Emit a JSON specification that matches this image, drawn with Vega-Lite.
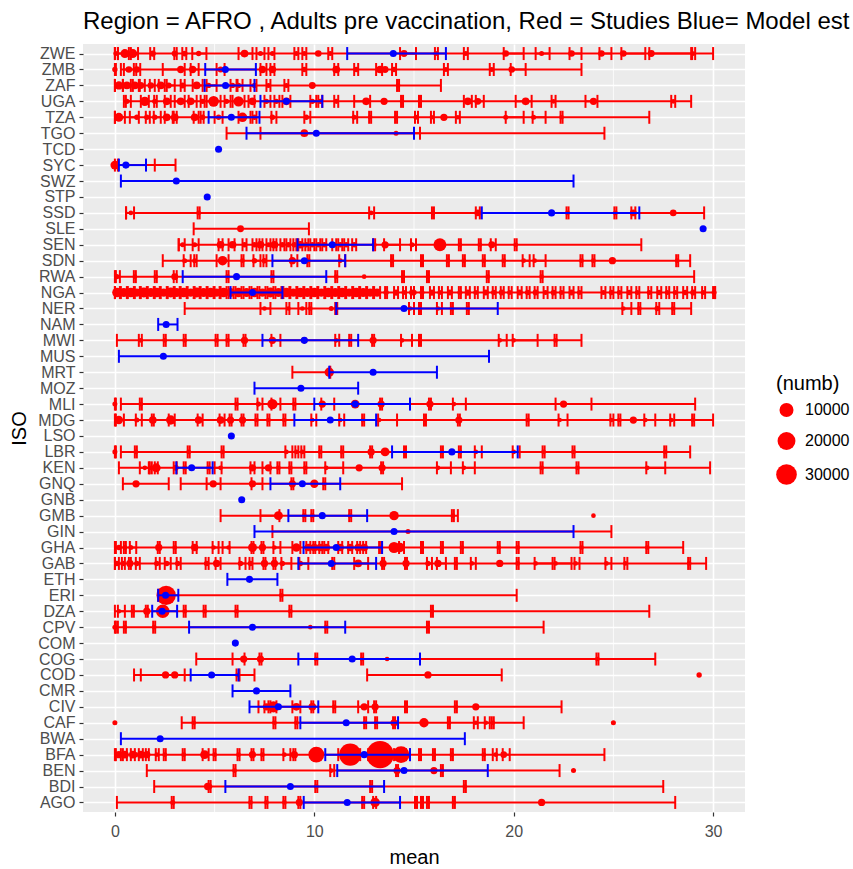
{
"$schema":"https://vega.github.io/schema/vega-lite/v6.json",
"width":662,"height":768,"autosize":{"type":"none"},
"padding":{"left":83,"top":44,"right":108,"bottom":57},
"title":{"text":"Region = AFRO , Adults pre vaccination, Red = Studies Blue= Model est","anchor":"start","frame":"group","fontSize":24,"fontWeight":"normal","font":"Liberation Sans","color":"#000000","offset":15,"baseline":"alphabetic","dy":24},
"config":{"font":"Liberation Sans","view":{"fill":"#EBEBEB","stroke":null},
"axis":{"domain":false,"grid":true,"gridColor":"#FFFFFF","gridWidth":1.6,"tickColor":"#333333","tickSize":4,"tickWidth":1.2,"labelColor":"#4D4D4D","labelFontSize":16,"labelFont":"Liberation Sans","titleFont":"Liberation Sans","titleFontSize":20,"titleFontWeight":"normal","titleColor":"#000000","labelPadding":4}},
"datasets":{
"g":[{"v":5},{"v":15},{"v":25}],
"b":[
{"c":"ZWE","m":13.96,"l":11.65,"h":16.6},{"c":"ZMB","m":5.54,"l":4.53,"h":7.07},{"c":"ZAF","m":5.55,"l":4.5,"h":7.0},{"c":"UGA","m":8.6,"l":7.3,"h":10.4},{"c":"TZA","m":5.84,"l":4.7,"h":7.25},{"c":"TGO","m":10.1,"l":6.6,"h":15.0},{"c":"TCD","m":5.2},{"c":"SYC","m":0.55,"l":0.2,"h":1.56},{"c":"SWZ","m":3.08,"l":0.3,"h":23.0},{"c":"STP","m":4.63},{"c":"SSD","m":21.9,"l":18.4,"h":26.3},{"c":"SLE","m":29.5},{"c":"SEN","m":10.9,"l":9.16,"h":12.95},{"c":"SDN","m":9.5,"l":7.9,"h":11.55},{"c":"RWA","m":6.1,"l":3.4,"h":10.6},{"c":"NGA","m":6.9,"l":5.8,"h":8.4},{"c":"NER","m":14.5,"l":11.1,"h":19.2},{"c":"NAM","m":2.57,"l":2.17,"h":3.14},{"c":"MWI","m":9.5,"l":7.4,"h":12.2},{"c":"MUS","m":2.43,"l":0.2,"h":18.76},{"c":"MRT","m":12.95,"l":10.75,"h":16.15},{"c":"MOZ","m":9.33,"l":7.0,"h":12.2},{"c":"MLI","m":12.05,"l":10.0,"h":14.8},{"c":"MDG","m":10.8,"l":9.0,"h":13.1},{"c":"LSO","m":5.84},{"c":"LBR","m":16.9,"l":13.9,"h":20.2},{"c":"KEN","m":3.85,"l":3.08,"h":4.9},{"c":"GNQ","m":9.4,"l":7.8,"h":11.3},{"c":"GNB","m":6.36},{"c":"GMB","m":10.4,"l":8.7,"h":12.65},{"c":"GIN","m":14.0,"l":7.0,"h":23.0},{"c":"GHA","m":11.1,"l":9.46,"h":13.4},{"c":"GAB","m":10.85,"l":9.2,"h":13.1},{"c":"ETH","m":6.75,"l":5.64,"h":8.15},{"c":"ERI","m":2.54,"l":2.17,"h":3.18},{"c":"DZA","m":2.37,"l":1.87,"h":3.12},{"c":"CPV","m":6.9,"l":3.72,"h":11.55},{"c":"COM","m":6.04},{"c":"COG","m":11.9,"l":9.2,"h":15.3},{"c":"COD","m":4.85,"l":3.8,"h":6.2},{"c":"CMR","m":7.1,"l":5.9,"h":8.8},{"c":"CIV","m":8.2,"l":6.75,"h":10.2},{"c":"CAF","m":11.6,"l":9.3,"h":14.2},{"c":"BWA","m":2.27,"l":0.3,"h":17.55},{"c":"BFA","m":12.5,"l":10.55,"h":14.8},{"c":"BEN","m":14.5,"l":11.15,"h":18.7},{"c":"BDI","m":8.8,"l":5.54,"h":13.5},{"c":"AGO","m":11.65,"l":9.47,"h":14.3}
],
"s":[
{"c":"ZWE","m":10.2,"l":0,"h":30,"n":800},{"c":"ZWE","m":0.05,"l":0,"h":0.15,"n":200},{"c":"ZWE","m":0.5,"l":0.15,"h":0.8,"n":2500},{"c":"ZWE","m":0.9,"l":0.7,"h":1.16,"n":2500},{"c":"ZWE","m":1.9,"l":1.77,"h":1.97,"n":600},{"c":"ZWE","m":3.0,"l":2.98,"h":3.1,"n":600},{"c":"ZWE","m":3.5,"l":3.38,"h":3.58,"n":400},{"c":"ZWE","m":4.2,"l":3.88,"h":4.59,"n":300},{"c":"ZWE","m":6.5,"l":6.2,"h":6.9,"n":1500},{"c":"ZWE","m":7.3,"l":7.1,"h":7.5,"n":200},{"c":"ZWE","m":7.9,"l":7.7,"h":8.0,"n":200},{"c":"ZWE","m":9.1,"l":9.0,"h":9.2,"n":200},{"c":"ZWE","m":9.5,"l":9.4,"h":9.6,"n":200},{"c":"ZWE","m":10.8,"l":10.7,"h":10.9,"n":200},{"c":"ZWE","m":14.5,"l":14.3,"h":15.1,"n":1000},{"c":"ZWE","m":16.1,"l":16.05,"h":16.2,"n":200},{"c":"ZWE","m":17.6,"l":17.5,"h":17.7,"n":200},{"c":"ZWE","m":19.6,"l":19.5,"h":20.5,"n":800},{"c":"ZWE","m":21.4,"l":21.1,"h":21.8,"n":200},{"c":"ZWE","m":22.9,"l":22.8,"h":23.4,"n":800},{"c":"ZWE","m":24.4,"l":24.3,"h":24.9,"n":800},{"c":"ZWE","m":25.5,"l":25.4,"h":26.6,"n":800},{"c":"ZWE","m":26.9,"l":26.8,"h":28.9,"n":1000},{"c":"ZWE","m":29.0,"l":28.95,"h":29.1,"n":100},
{"c":"ZMB","m":13.55,"l":0.3,"h":23.4,"n":1000},{"c":"ZMB","m":0.0,"l":0,"h":0.05,"n":300},{"c":"ZMB","m":0.7,"l":0.45,"h":0.95,"n":800},{"c":"ZMB","m":1.1,"l":1.07,"h":1.27,"n":800},{"c":"ZMB","m":3.3,"l":2.4,"h":3.5,"n":1200},{"c":"ZMB","m":3.9,"l":3.8,"h":4.2,"n":1200},{"c":"ZMB","m":5.3,"l":5.1,"h":5.5,"n":500},{"c":"ZMB","m":7.4,"l":7.3,"h":7.6,"n":1200},{"c":"ZMB","m":7.9,"l":7.8,"h":8.0,"n":1200},{"c":"ZMB","m":9.5,"l":9.4,"h":9.6,"n":300},{"c":"ZMB","m":11.1,"l":11.0,"h":11.2,"n":1500},{"c":"ZMB","m":12.1,"l":12.0,"h":12.2,"n":300},{"c":"ZMB","m":13.3,"l":13.1,"h":13.4,"n":1500},{"c":"ZMB","m":14.0,"l":13.9,"h":14.1,"n":300},{"c":"ZMB","m":16.6,"l":16.5,"h":16.7,"n":200},{"c":"ZMB","m":18.9,"l":18.8,"h":19.0,"n":200},{"c":"ZMB","m":19.9,"l":19.85,"h":20.6,"n":800},
{"c":"ZAF","m":9.9,"l":0,"h":16.35,"n":1000},{"c":"ZAF","m":0.2,"l":0,"h":0.4,"n":2000},{"c":"ZAF","m":0.6,"l":0.4,"h":0.8,"n":1500},{"c":"ZAF","m":1.0,"l":0.9,"h":1.2,"n":1500},{"c":"ZAF","m":1.3,"l":1.25,"h":1.5,"n":1000},{"c":"ZAF","m":1.8,"l":1.75,"h":2.0,"n":800},{"c":"ZAF","m":2.3,"l":2.2,"h":2.5,"n":1500},{"c":"ZAF","m":2.7,"l":2.6,"h":3.0,"n":500},{"c":"ZAF","m":3.4,"l":3.3,"h":3.5,"n":500},{"c":"ZAF","m":4.1,"l":3.9,"h":4.4,"n":1500},{"c":"ZAF","m":4.7,"l":4.6,"h":5.1,"n":300},{"c":"ZAF","m":5.9,"l":5.8,"h":6.1,"n":300},{"c":"ZAF","m":6.2,"l":6.15,"h":6.4,"n":300},{"c":"ZAF","m":7.0,"l":6.8,"h":7.1,"n":300},{"c":"ZAF","m":7.7,"l":7.6,"h":7.8,"n":200},{"c":"ZAF","m":8.6,"l":8.5,"h":8.7,"n":200},{"c":"ZAF","m":14.2,"l":14.15,"h":14.25,"n":100},
{"c":"UGA","m":13.5,"l":0.45,"h":28.9,"n":1200},{"c":"UGA","m":0.6,"l":0.55,"h":0.8,"n":300},{"c":"UGA","m":1.5,"l":1.3,"h":1.7,"n":3000},{"c":"UGA","m":2.0,"l":1.97,"h":2.1,"n":300},{"c":"UGA","m":2.6,"l":2.5,"h":2.8,"n":1500},{"c":"UGA","m":3.3,"l":3.0,"h":3.5,"n":1500},{"c":"UGA","m":3.8,"l":3.7,"h":4.1,"n":1500},{"c":"UGA","m":4.4,"l":4.3,"h":4.5,"n":300},{"c":"UGA","m":4.95,"l":4.6,"h":5.3,"n":4500},{"c":"UGA","m":5.6,"l":5.5,"h":5.8,"n":300},{"c":"UGA","m":6.2,"l":5.9,"h":6.5,"n":4000},{"c":"UGA","m":6.9,"l":6.7,"h":7.0,"n":1500},{"c":"UGA","m":7.6,"l":7.5,"h":7.8,"n":300},{"c":"UGA","m":8.1,"l":8.0,"h":8.25,"n":300},{"c":"UGA","m":8.6,"l":8.4,"h":8.8,"n":1500},{"c":"UGA","m":9.9,"l":9.8,"h":10.1,"n":300},{"c":"UGA","m":10.3,"l":10.2,"h":10.4,"n":300},{"c":"UGA","m":11.1,"l":11.0,"h":11.2,"n":200},{"c":"UGA","m":12.6,"l":12.0,"h":12.8,"n":1500},{"c":"UGA","m":14.4,"l":14.35,"h":14.45,"n":100},{"c":"UGA","m":15.3,"l":15.25,"h":15.35,"n":100},{"c":"UGA","m":17.7,"l":17.5,"h":17.9,"n":1500},{"c":"UGA","m":18.2,"l":18.1,"h":18.5,"n":1000},{"c":"UGA","m":20.6,"l":20.1,"h":20.9,"n":1500},{"c":"UGA","m":22.0,"l":21.9,"h":22.1,"n":100},{"c":"UGA","m":24.0,"l":23.6,"h":24.2,"n":1200},{"c":"UGA","m":28.0,"l":27.9,"h":28.1,"n":100},
{"c":"TZA","m":16.5,"l":0,"h":26.8,"n":1200},{"c":"TZA","m":0.2,"l":0,"h":0.5,"n":2500},{"c":"TZA","m":1.1,"l":0.75,"h":1.2,"n":300},{"c":"TZA","m":1.6,"l":1.55,"h":1.75,"n":300},{"c":"TZA","m":2.0,"l":1.95,"h":2.3,"n":300},{"c":"TZA","m":2.6,"l":2.5,"h":2.9,"n":1500},{"c":"TZA","m":3.0,"l":2.95,"h":3.1,"n":1500},{"c":"TZA","m":4.0,"l":3.95,"h":4.2,"n":1500},{"c":"TZA","m":4.4,"l":4.3,"h":4.45,"n":300},{"c":"TZA","m":5.2,"l":5.0,"h":5.4,"n":300},{"c":"TZA","m":6.4,"l":6.2,"h":6.8,"n":3000},{"c":"TZA","m":7.0,"l":6.9,"h":7.1,"n":300},{"c":"TZA","m":7.9,"l":7.85,"h":8.1,"n":300},{"c":"TZA","m":9.6,"l":9.5,"h":9.8,"n":300},{"c":"TZA","m":12.0,"l":11.95,"h":12.15,"n":200},{"c":"TZA","m":12.8,"l":12.75,"h":12.85,"n":100},{"c":"TZA","m":14.1,"l":14.05,"h":14.15,"n":100},{"c":"TZA","m":15.1,"l":15.05,"h":15.2,"n":200},{"c":"TZA","m":15.9,"l":15.85,"h":16.0,"n":100},{"c":"TZA","m":17.2,"l":17.1,"h":17.3,"n":100},{"c":"TZA","m":19.6,"l":19.6,"h":20.5,"n":200},{"c":"TZA","m":21.0,"l":20.95,"h":21.6,"n":200},{"c":"TZA","m":22.4,"l":22.35,"h":22.45,"n":100},
{"c":"TGO","m":9.5,"l":5.6,"h":24.55,"n":1500},{"c":"TGO","m":14.1,"l":7.3,"h":15.3,"n":200},
{"c":"SYC","m":0.0,"l":0,"h":2.0,"n":2500},{"c":"SYC","m":0.6,"l":0.15,"h":3.04,"n":300},
{"c":"SSD","m":28.0,"l":0.56,"h":29.55,"n":800},{"c":"SSD","m":0.8,"l":0.56,"h":0.96,"n":100},{"c":"SSD","m":4.2,"l":4.15,"h":4.25,"n":100},{"c":"SSD","m":12.85,"l":12.75,"h":13.0,"n":100},{"c":"SSD","m":15.95,"l":15.9,"h":16.0,"n":100},{"c":"SSD","m":18.2,"l":18.1,"h":18.3,"n":800},{"c":"SSD","m":22.7,"l":22.65,"h":22.75,"n":100},{"c":"SSD","m":25.1,"l":25.05,"h":25.15,"n":100},{"c":"SSD","m":26.0,"l":25.9,"h":26.1,"n":1000},
{"c":"SLE","m":6.3,"l":3.95,"h":9.73,"n":1000},
{"c":"SEN","m":16.3,"l":3.2,"h":26.4,"n":8000},{"c":"SEN","m":3.4,"l":3.2,"h":3.5,"n":200},{"c":"SEN","m":4.0,"l":3.9,"h":4.2,"n":200},{"c":"SEN","m":5.3,"l":5.2,"h":5.4,"n":1500},{"c":"SEN","m":5.9,"l":5.7,"h":6.0,"n":1500},{"c":"SEN","m":6.5,"l":6.4,"h":6.6,"n":300},{"c":"SEN","m":7.0,"l":6.9,"h":7.1,"n":300},{"c":"SEN","m":7.3,"l":7.25,"h":7.4,"n":1500},{"c":"SEN","m":7.7,"l":7.6,"h":7.8,"n":200},{"c":"SEN","m":8.0,"l":7.95,"h":8.1,"n":1500},{"c":"SEN","m":8.4,"l":8.3,"h":8.5,"n":300},{"c":"SEN","m":8.7,"l":8.6,"h":8.8,"n":300},{"c":"SEN","m":9.0,"l":8.95,"h":9.1,"n":300},{"c":"SEN","m":9.3,"l":9.2,"h":9.4,"n":1500},{"c":"SEN","m":9.6,"l":9.55,"h":9.7,"n":300},{"c":"SEN","m":9.9,"l":9.8,"h":10.0,"n":300},{"c":"SEN","m":10.2,"l":10.1,"h":10.3,"n":300},{"c":"SEN","m":10.5,"l":10.4,"h":10.6,"n":300},{"c":"SEN","m":11.0,"l":10.9,"h":11.1,"n":300},{"c":"SEN","m":11.3,"l":11.2,"h":11.4,"n":300},{"c":"SEN","m":11.6,"l":11.5,"h":11.7,"n":300},{"c":"SEN","m":12.0,"l":11.9,"h":12.1,"n":300},{"c":"SEN","m":13.0,"l":12.95,"h":13.05,"n":200},{"c":"SEN","m":13.55,"l":13.5,"h":14.3,"n":1200},{"c":"SEN","m":14.9,"l":14.85,"h":15.1,"n":200},{"c":"SEN","m":17.3,"l":17.25,"h":17.35,"n":100},{"c":"SEN","m":18.3,"l":18.25,"h":18.35,"n":100},{"c":"SEN","m":18.9,"l":18.85,"h":19.1,"n":1000},{"c":"SEN","m":20.1,"l":20.05,"h":20.15,"n":100},
{"c":"SDN","m":24.95,"l":2.4,"h":28.85,"n":1200},{"c":"SDN","m":3.5,"l":3.45,"h":3.8,"n":200},{"c":"SDN","m":4.0,"l":3.98,"h":4.1,"n":200},{"c":"SDN","m":5.4,"l":5.1,"h":5.7,"n":3000},{"c":"SDN","m":6.4,"l":6.35,"h":6.45,"n":100},{"c":"SDN","m":7.0,"l":6.95,"h":7.3,"n":300},{"c":"SDN","m":7.5,"l":7.45,"h":7.6,"n":300},{"c":"SDN","m":8.9,"l":8.85,"h":9.15,"n":1200},{"c":"SDN","m":9.7,"l":9.65,"h":9.75,"n":100},{"c":"SDN","m":11.3,"l":11.25,"h":11.55,"n":100},{"c":"SDN","m":13.9,"l":13.85,"h":13.95,"n":100},{"c":"SDN","m":15.4,"l":15.35,"h":15.45,"n":100},{"c":"SDN","m":16.7,"l":16.65,"h":16.75,"n":100},{"c":"SDN","m":17.5,"l":17.45,"h":17.55,"n":100},{"c":"SDN","m":18.5,"l":18.45,"h":18.55,"n":100},{"c":"SDN","m":19.5,"l":19.45,"h":19.55,"n":100},{"c":"SDN","m":20.5,"l":20.45,"h":20.8,"n":100},{"c":"SDN","m":21.05,"l":21.0,"h":21.6,"n":100},{"c":"SDN","m":23.4,"l":23.35,"h":23.45,"n":100},{"c":"SDN","m":24.0,"l":23.95,"h":24.05,"n":100},{"c":"SDN","m":28.2,"l":28.15,"h":28.25,"n":100},
{"c":"RWA","m":12.5,"l":0,"h":29.05,"n":100},{"c":"RWA","m":0.1,"l":0.05,"h":0.25,"n":200},{"c":"RWA","m":1.0,"l":0.95,"h":1.05,"n":100},{"c":"RWA","m":2.05,"l":2.0,"h":2.1,"n":100},{"c":"RWA","m":3.0,"l":2.95,"h":3.1,"n":1000},{"c":"RWA","m":5.65,"l":5.6,"h":5.7,"n":100},{"c":"RWA","m":7.9,"l":7.85,"h":7.95,"n":100},{"c":"RWA","m":11.1,"l":11.05,"h":11.15,"n":100},{"c":"RWA","m":14.45,"l":14.4,"h":14.5,"n":100},{"c":"RWA","m":15.7,"l":15.65,"h":15.75,"n":100},{"c":"RWA","m":18.7,"l":18.65,"h":18.75,"n":100},{"c":"RWA","m":21.4,"l":21.35,"h":21.45,"n":100},
{"c":"NGA","m":15.0,"l":0,"h":30.1,"n":300},{"c":"NGA","m":0.1,"l":0,"h":0.25,"n":3000},{"c":"NGA","m":0.45,"l":0.3,"h":0.6,"n":2500},{"c":"NGA","m":0.8,"l":0.65,"h":0.95,"n":3000},{"c":"NGA","m":1.1,"l":1.0,"h":1.25,"n":2000},{"c":"NGA","m":1.45,"l":1.3,"h":1.6,"n":3500},{"c":"NGA","m":1.8,"l":1.65,"h":1.95,"n":2500},{"c":"NGA","m":2.1,"l":2.0,"h":2.25,"n":3000},{"c":"NGA","m":2.45,"l":2.3,"h":2.6,"n":2000},{"c":"NGA","m":2.8,"l":2.65,"h":2.95,"n":3500},{"c":"NGA","m":3.1,"l":3.0,"h":3.25,"n":2500},{"c":"NGA","m":3.45,"l":3.3,"h":3.6,"n":3000},{"c":"NGA","m":3.8,"l":3.65,"h":3.95,"n":2000},{"c":"NGA","m":4.1,"l":4.0,"h":4.25,"n":3500},{"c":"NGA","m":4.45,"l":4.3,"h":4.6,"n":2500},{"c":"NGA","m":4.8,"l":4.65,"h":4.95,"n":3000},{"c":"NGA","m":5.1,"l":5.0,"h":5.25,"n":2000},{"c":"NGA","m":5.45,"l":5.3,"h":5.6,"n":3000},{"c":"NGA","m":5.8,"l":5.7,"h":5.95,"n":2500},{"c":"NGA","m":6.2,"l":6.05,"h":6.35,"n":3000},{"c":"NGA","m":6.6,"l":6.45,"h":6.75,"n":2500},{"c":"NGA","m":7.0,"l":6.85,"h":7.15,"n":3000},{"c":"NGA","m":7.4,"l":7.25,"h":7.55,"n":2000},{"c":"NGA","m":7.8,"l":7.65,"h":7.95,"n":3500},{"c":"NGA","m":8.2,"l":8.05,"h":8.35,"n":2500},{"c":"NGA","m":8.6,"l":8.45,"h":8.75,"n":3000},{"c":"NGA","m":8.95,"l":8.8,"h":9.1,"n":2000},{"c":"NGA","m":9.3,"l":9.15,"h":9.45,"n":3000},{"c":"NGA","m":9.65,"l":9.5,"h":9.8,"n":2500},{"c":"NGA","m":10.0,"l":9.85,"h":10.15,"n":3000},{"c":"NGA","m":10.35,"l":10.2,"h":10.5,"n":2000},{"c":"NGA","m":10.7,"l":10.55,"h":10.85,"n":3000},{"c":"NGA","m":11.05,"l":10.9,"h":11.2,"n":2500},{"c":"NGA","m":11.4,"l":11.25,"h":11.55,"n":3000},{"c":"NGA","m":11.75,"l":11.6,"h":11.9,"n":2000},{"c":"NGA","m":12.1,"l":11.95,"h":12.25,"n":3000},{"c":"NGA","m":12.45,"l":12.3,"h":12.6,"n":2500},{"c":"NGA","m":12.8,"l":12.65,"h":12.95,"n":2000},{"c":"NGA","m":13.15,"l":13.0,"h":13.3,"n":2000},{"c":"NGA","m":13.6,"l":13.55,"h":13.65,"n":300},{"c":"NGA","m":14.1,"l":14.0,"h":14.2,"n":600},{"c":"NGA","m":14.5,"l":14.45,"h":14.6,"n":200},{"c":"NGA","m":14.9,"l":14.85,"h":15.0,"n":500},{"c":"NGA","m":15.4,"l":15.35,"h":15.45,"n":200},{"c":"NGA","m":15.9,"l":15.8,"h":16.0,"n":600},{"c":"NGA","m":16.3,"l":16.25,"h":16.4,"n":200},{"c":"NGA","m":16.8,"l":16.7,"h":16.9,"n":500},{"c":"NGA","m":17.3,"l":17.25,"h":17.35,"n":200},{"c":"NGA","m":17.7,"l":17.6,"h":17.8,"n":600},{"c":"NGA","m":18.1,"l":18.05,"h":18.2,"n":200},{"c":"NGA","m":18.6,"l":18.5,"h":18.7,"n":500},{"c":"NGA","m":19.0,"l":18.95,"h":19.1,"n":300},{"c":"NGA","m":19.4,"l":19.35,"h":19.5,"n":500},{"c":"NGA","m":19.8,"l":19.75,"h":19.9,"n":200},{"c":"NGA","m":20.3,"l":20.2,"h":20.4,"n":500},{"c":"NGA","m":20.7,"l":20.65,"h":20.8,"n":300},{"c":"NGA","m":21.1,"l":21.05,"h":21.2,"n":500},{"c":"NGA","m":21.6,"l":21.5,"h":21.7,"n":200},{"c":"NGA","m":22.0,"l":21.95,"h":22.1,"n":400},{"c":"NGA","m":22.4,"l":22.35,"h":22.5,"n":200},{"c":"NGA","m":22.9,"l":22.8,"h":23.0,"n":500},{"c":"NGA","m":23.3,"l":23.25,"h":23.4,"n":200},{"c":"NGA","m":24.5,"l":24.4,"h":24.6,"n":200},{"c":"NGA","m":24.9,"l":24.85,"h":25.0,"n":300},{"c":"NGA","m":25.3,"l":25.25,"h":25.4,"n":200},{"c":"NGA","m":25.8,"l":25.7,"h":25.9,"n":300},{"c":"NGA","m":26.2,"l":26.15,"h":26.3,"n":200},{"c":"NGA","m":26.8,"l":26.75,"h":26.9,"n":200},{"c":"NGA","m":27.3,"l":27.2,"h":27.4,"n":300},{"c":"NGA","m":27.7,"l":27.65,"h":27.8,"n":200},{"c":"NGA","m":28.1,"l":28.05,"h":28.2,"n":200},{"c":"NGA","m":28.6,"l":28.5,"h":28.7,"n":300},{"c":"NGA","m":29.0,"l":28.95,"h":29.1,"n":500},{"c":"NGA","m":29.5,"l":29.45,"h":29.6,"n":200},{"c":"NGA","m":30.05,"l":30.0,"h":30.1,"n":200},
{"c":"NER","m":10.85,"l":3.5,"h":28.9,"n":200},{"c":"NER","m":7.5,"l":7.3,"h":7.8,"n":100},{"c":"NER","m":8.7,"l":8.6,"h":8.75,"n":100},{"c":"NER","m":9.4,"l":9.2,"h":9.6,"n":100},{"c":"NER","m":9.8,"l":9.75,"h":9.85,"n":100},{"c":"NER","m":11.1,"l":11.05,"h":11.15,"n":100},{"c":"NER","m":14.8,"l":14.75,"h":15.0,"n":100},{"c":"NER","m":15.3,"l":15.25,"h":15.35,"n":100},{"c":"NER","m":16.2,"l":16.15,"h":16.4,"n":100},{"c":"NER","m":16.9,"l":16.85,"h":16.95,"n":100},{"c":"NER","m":17.7,"l":17.65,"h":17.75,"n":100},{"c":"NER","m":25.5,"l":25.45,"h":25.9,"n":100},{"c":"NER","m":26.3,"l":26.25,"h":26.35,"n":100},{"c":"NER","m":27.2,"l":27.15,"h":27.3,"n":300},{"c":"NER","m":28.0,"l":27.95,"h":28.05,"n":100},
{"c":"MWI","m":9.5,"l":0.1,"h":23.4,"n":800},{"c":"MWI","m":1.3,"l":1.2,"h":1.35,"n":100},{"c":"MWI","m":2.5,"l":2.45,"h":2.55,"n":100},{"c":"MWI","m":3.5,"l":3.45,"h":3.55,"n":100},{"c":"MWI","m":5.1,"l":5.05,"h":5.15,"n":100},{"c":"MWI","m":5.65,"l":5.6,"h":5.7,"n":100},{"c":"MWI","m":6.5,"l":6.45,"h":6.55,"n":1200},{"c":"MWI","m":7.9,"l":7.85,"h":8.3,"n":1200},{"c":"MWI","m":11.1,"l":11.05,"h":11.25,"n":100},{"c":"MWI","m":11.8,"l":11.75,"h":11.85,"n":100},{"c":"MWI","m":12.95,"l":12.9,"h":13.0,"n":1200},{"c":"MWI","m":14.4,"l":14.35,"h":14.9,"n":100},{"c":"MWI","m":15.3,"l":15.25,"h":15.35,"n":100},{"c":"MWI","m":19.3,"l":19.25,"h":19.65,"n":100},{"c":"MWI","m":20.0,"l":19.95,"h":21.2,"n":100},{"c":"MWI","m":22.1,"l":22.05,"h":22.15,"n":100},
{"c":"MRT","m":10.75,"l":8.9,"h":10.8,"n":3000},
{"c":"MLI","m":12.05,"l":0.3,"h":29.1,"n":2500},{"c":"MLI","m":0.0,"l":0,"h":0.05,"n":200},{"c":"MLI","m":1.3,"l":1.25,"h":1.35,"n":100},{"c":"MLI","m":6.1,"l":6.05,"h":6.15,"n":100},{"c":"MLI","m":7.2,"l":7.15,"h":7.4,"n":200},{"c":"MLI","m":7.9,"l":7.85,"h":8.3,"n":4000},{"c":"MLI","m":9.0,"l":8.95,"h":9.05,"n":100},{"c":"MLI","m":10.4,"l":10.35,"h":11.0,"n":1200},{"c":"MLI","m":13.35,"l":13.3,"h":13.4,"n":1200},{"c":"MLI","m":15.8,"l":15.75,"h":15.85,"n":1200},{"c":"MLI","m":17.0,"l":16.95,"h":17.6,"n":100},{"c":"MLI","m":22.5,"l":22.1,"h":23.9,"n":1200},
{"c":"MDG","m":26.0,"l":0,"h":30.0,"n":1200},{"c":"MDG","m":0.2,"l":0.05,"h":0.45,"n":2000},{"c":"MDG","m":1.1,"l":1.05,"h":1.35,"n":200},{"c":"MDG","m":1.9,"l":1.85,"h":1.95,"n":1500},{"c":"MDG","m":2.8,"l":2.7,"h":3.0,"n":3000},{"c":"MDG","m":4.2,"l":4.15,"h":4.4,"n":1500},{"c":"MDG","m":5.3,"l":5.25,"h":5.5,"n":1500},{"c":"MDG","m":5.8,"l":5.75,"h":5.85,"n":1200},{"c":"MDG","m":6.4,"l":6.35,"h":6.45,"n":1200},{"c":"MDG","m":7.1,"l":7.05,"h":7.15,"n":100},{"c":"MDG","m":7.7,"l":7.65,"h":7.75,"n":100},{"c":"MDG","m":8.5,"l":8.45,"h":8.55,"n":100},{"c":"MDG","m":9.9,"l":9.85,"h":10.1,"n":100},{"c":"MDG","m":11.3,"l":11.25,"h":11.5,"n":100},{"c":"MDG","m":12.45,"l":12.4,"h":12.5,"n":100},{"c":"MDG","m":13.25,"l":13.2,"h":14.15,"n":100},{"c":"MDG","m":15.55,"l":15.5,"h":15.6,"n":100},{"c":"MDG","m":17.25,"l":17.2,"h":17.3,"n":1200},{"c":"MDG","m":20.7,"l":20.65,"h":20.75,"n":100},{"c":"MDG","m":22.3,"l":22.25,"h":22.7,"n":100},{"c":"MDG","m":24.9,"l":24.85,"h":25.0,"n":100},{"c":"MDG","m":25.3,"l":25.25,"h":25.35,"n":100},{"c":"MDG","m":26.6,"l":26.55,"h":27.1,"n":100},{"c":"MDG","m":27.9,"l":27.85,"h":28.05,"n":100},{"c":"MDG","m":29.0,"l":28.95,"h":29.05,"n":100},
{"c":"LBR","m":13.55,"l":0.3,"h":28.85,"n":2500},{"c":"LBR","m":0.0,"l":0,"h":0.05,"n":200},{"c":"LBR","m":1.05,"l":1.0,"h":1.1,"n":100},{"c":"LBR","m":3.7,"l":3.65,"h":3.75,"n":100},{"c":"LBR","m":5.4,"l":5.35,"h":5.45,"n":100},{"c":"LBR","m":8.6,"l":8.55,"h":8.9,"n":100},{"c":"LBR","m":9.1,"l":9.05,"h":9.2,"n":100},{"c":"LBR","m":9.4,"l":9.35,"h":9.5,"n":100},{"c":"LBR","m":10.3,"l":10.25,"h":10.35,"n":100},{"c":"LBR","m":11.4,"l":11.35,"h":11.45,"n":100},{"c":"LBR","m":12.85,"l":12.8,"h":12.9,"n":1200},{"c":"LBR","m":14.55,"l":14.5,"h":14.6,"n":100},{"c":"LBR","m":16.4,"l":16.35,"h":16.45,"n":100},{"c":"LBR","m":17.3,"l":17.25,"h":17.35,"n":100},{"c":"LBR","m":18.1,"l":18.05,"h":18.4,"n":100},{"c":"LBR","m":20.0,"l":19.95,"h":20.3,"n":100},{"c":"LBR","m":21.5,"l":21.45,"h":21.55,"n":100},{"c":"LBR","m":23.0,"l":22.95,"h":23.05,"n":100},{"c":"LBR","m":27.6,"l":27.55,"h":27.65,"n":100},
{"c":"KEN","m":12.25,"l":0.2,"h":29.85,"n":1200},{"c":"KEN","m":1.5,"l":1.25,"h":1.7,"n":100},{"c":"KEN","m":1.8,"l":1.75,"h":1.85,"n":100},{"c":"KEN","m":2.07,"l":2.0,"h":2.15,"n":2500},{"c":"KEN","m":3.05,"l":2.95,"h":3.1,"n":500},{"c":"KEN","m":3.5,"l":3.45,"h":3.55,"n":100},{"c":"KEN","m":4.7,"l":4.65,"h":4.75,"n":100},{"c":"KEN","m":5.3,"l":5.0,"h":5.35,"n":100},{"c":"KEN","m":6.9,"l":6.8,"h":7.0,"n":1200},{"c":"KEN","m":7.7,"l":7.4,"h":7.8,"n":1200},{"c":"KEN","m":8.2,"l":8.15,"h":8.25,"n":100},{"c":"KEN","m":8.8,"l":8.75,"h":8.85,"n":100},{"c":"KEN","m":9.55,"l":9.5,"h":9.6,"n":100},{"c":"KEN","m":10.6,"l":10.55,"h":11.45,"n":100},{"c":"KEN","m":13.4,"l":13.35,"h":13.45,"n":1200},{"c":"KEN","m":16.2,"l":16.15,"h":16.85,"n":100},{"c":"KEN","m":17.5,"l":17.45,"h":18.05,"n":100},{"c":"KEN","m":21.4,"l":21.35,"h":21.45,"n":100},{"c":"KEN","m":23.2,"l":23.15,"h":23.25,"n":100},{"c":"KEN","m":26.7,"l":26.65,"h":27.6,"n":100},
{"c":"GNQ","m":1.06,"l":0.4,"h":2.7,"n":1200},{"c":"GNQ","m":10.0,"l":3.3,"h":14.4,"n":2000},{"c":"GNQ","m":4.93,"l":4.6,"h":5.3,"n":1200},{"c":"GNQ","m":6.9,"l":6.85,"h":7.4,"n":1200},{"c":"GNQ","m":8.9,"l":8.85,"h":8.95,"n":1200},{"c":"GNQ","m":10.5,"l":10.45,"h":10.55,"n":100},
{"c":"GMB","m":14.0,"l":5.3,"h":17.2,"n":3000},{"c":"GMB","m":8.2,"l":7.3,"h":8.25,"n":2500},{"c":"GMB","m":9.5,"l":9.45,"h":9.55,"n":100},{"c":"GMB","m":9.9,"l":9.85,"h":9.95,"n":100},{"c":"GMB","m":11.8,"l":11.75,"h":11.85,"n":100},{"c":"GMB","m":16.95,"l":16.9,"h":17.0,"n":100},{"c":"GMB","m":24.0,"n":100},
{"c":"GIN","m":14.7,"l":7.9,"h":24.9,"n":200},
{"c":"GHA","m":14.0,"l":0,"h":28.5,"n":5000},{"c":"GHA","m":0.2,"l":0.05,"h":0.3,"n":300},{"c":"GHA","m":0.5,"l":0.45,"h":0.55,"n":200},{"c":"GHA","m":0.8,"l":0.75,"h":1.07,"n":200},{"c":"GHA","m":2.2,"l":2.15,"h":2.25,"n":1200},{"c":"GHA","m":3.0,"l":2.95,"h":3.05,"n":100},{"c":"GHA","m":4.0,"l":3.9,"h":4.1,"n":1200},{"c":"GHA","m":4.95,"l":4.9,"h":5.2,"n":100},{"c":"GHA","m":5.7,"l":5.4,"h":5.75,"n":100},{"c":"GHA","m":6.9,"l":6.85,"h":6.95,"n":2500},{"c":"GHA","m":7.4,"l":7.35,"h":7.45,"n":1200},{"c":"GHA","m":8.0,"l":7.95,"h":8.3,"n":100},{"c":"GHA","m":9.1,"l":8.9,"h":9.3,"n":2000},{"c":"GHA","m":9.7,"l":9.6,"h":9.8,"n":1500},{"c":"GHA","m":10.0,"l":9.95,"h":10.05,"n":1500},{"c":"GHA","m":10.3,"l":10.25,"h":10.4,"n":1500},{"c":"GHA","m":10.6,"l":10.5,"h":10.7,"n":1500},{"c":"GHA","m":11.3,"l":11.2,"h":11.4,"n":1200},{"c":"GHA","m":11.8,"l":11.7,"h":11.9,"n":1200},{"c":"GHA","m":12.2,"l":12.15,"h":12.3,"n":1500},{"c":"GHA","m":12.5,"l":12.45,"h":12.6,"n":1500},{"c":"GHA","m":13.3,"l":13.25,"h":13.35,"n":100},{"c":"GHA","m":14.3,"l":14.25,"h":14.5,"n":3000},{"c":"GHA","m":15.4,"l":15.35,"h":15.45,"n":100},{"c":"GHA","m":16.4,"l":16.35,"h":16.45,"n":100},{"c":"GHA","m":17.4,"l":17.35,"h":17.45,"n":100},{"c":"GHA","m":19.25,"l":19.2,"h":19.3,"n":100},{"c":"GHA","m":20.2,"l":20.15,"h":20.25,"n":100},{"c":"GHA","m":23.4,"l":23.35,"h":23.45,"n":100},{"c":"GHA","m":26.7,"l":26.65,"h":26.75,"n":100},
{"c":"GAB","m":19.3,"l":0,"h":29.65,"n":1200},{"c":"GAB","m":0.1,"l":0,"h":0.2,"n":300},{"c":"GAB","m":0.4,"l":0.35,"h":0.5,"n":300},{"c":"GAB","m":0.75,"l":0.7,"h":0.8,"n":1200},{"c":"GAB","m":1.1,"l":1.05,"h":1.25,"n":300},{"c":"GAB","m":2.1,"l":2.05,"h":2.25,"n":300},{"c":"GAB","m":2.6,"l":2.5,"h":2.8,"n":300},{"c":"GAB","m":3.15,"l":3.1,"h":3.3,"n":300},{"c":"GAB","m":4.6,"l":4.55,"h":4.7,"n":300},{"c":"GAB","m":5.1,"l":5.05,"h":5.3,"n":1200},{"c":"GAB","m":6.3,"l":6.25,"h":6.55,"n":300},{"c":"GAB","m":6.8,"l":6.75,"h":6.9,"n":300},{"c":"GAB","m":7.5,"l":7.45,"h":7.55,"n":1200},{"c":"GAB","m":8.0,"l":7.95,"h":8.05,"n":1200},{"c":"GAB","m":8.4,"l":8.35,"h":8.85,"n":300},{"c":"GAB","m":9.3,"l":9.25,"h":9.7,"n":300},{"c":"GAB","m":10.95,"l":10.9,"h":11.0,"n":300},{"c":"GAB","m":12.2,"l":12.0,"h":12.7,"n":1500},{"c":"GAB","m":13.45,"l":13.4,"h":13.5,"n":1200},{"c":"GAB","m":14.6,"l":14.55,"h":14.65,"n":1200},{"c":"GAB","m":15.7,"l":15.65,"h":15.9,"n":300},{"c":"GAB","m":16.2,"l":16.15,"h":16.6,"n":1200},{"c":"GAB","m":17.1,"l":17.05,"h":17.15,"n":100},{"c":"GAB","m":17.9,"l":17.85,"h":18.1,"n":100},{"c":"GAB","m":20.2,"l":20.15,"h":20.25,"n":100},{"c":"GAB","m":21.1,"l":21.05,"h":21.95,"n":100},{"c":"GAB","m":22.1,"l":22.05,"h":22.9,"n":100},{"c":"GAB","m":23.1,"l":23.05,"h":23.3,"n":100},{"c":"GAB","m":24.65,"l":24.6,"h":24.9,"n":100},{"c":"GAB","m":25.6,"l":25.55,"h":25.7,"n":100},{"c":"GAB","m":28.8,"l":28.75,"h":28.85,"n":100},
{"c":"ERI","m":2.57,"l":2.17,"h":20.15,"n":25000},{"c":"ERI","m":8.35,"l":8.3,"h":8.4,"n":100},
{"c":"DZA","m":2.4,"l":0,"h":26.8,"n":9000},{"c":"DZA","m":0.2,"l":0.15,"h":0.5,"n":100},{"c":"DZA","m":0.9,"l":0.85,"h":0.95,"n":100},{"c":"DZA","m":1.6,"l":1.55,"h":1.65,"n":1200},{"c":"DZA","m":3.5,"l":3.45,"h":3.55,"n":100},{"c":"DZA","m":4.5,"l":4.45,"h":4.55,"n":100},{"c":"DZA","m":6.1,"l":6.05,"h":6.15,"n":100},{"c":"DZA","m":8.8,"l":8.75,"h":8.85,"n":100},{"c":"DZA","m":15.9,"l":15.85,"h":15.95,"n":100},
{"c":"CPV","m":9.8,"l":0.15,"h":21.5,"n":100},{"c":"CPV","m":0.0,"l":0,"h":0.05,"n":200},{"c":"CPV","m":0.5,"l":0.45,"h":0.55,"n":100},{"c":"CPV","m":1.97,"l":1.92,"h":2.02,"n":100},{"c":"CPV","m":10.6,"l":10.55,"h":10.65,"n":100},{"c":"CPV","m":15.7,"l":15.65,"h":15.75,"n":100},
{"c":"COG","m":13.65,"l":4.08,"h":27.1,"n":100},{"c":"COG","m":6.46,"l":5.9,"h":6.5,"n":1200},{"c":"COG","m":7.3,"l":7.25,"h":7.35,"n":1200},{"c":"COG","m":10.1,"l":10.05,"h":10.15,"n":100},{"c":"COG","m":12.4,"l":12.35,"h":12.45,"n":100},{"c":"COG","m":24.2,"l":24.15,"h":24.25,"n":100},
{"c":"COD","m":2.54,"l":0.96,"h":3.5,"n":1200},{"c":"COD","m":3.0,"l":1.3,"h":7.0,"n":1200},{"c":"COD","m":6.15,"l":6.1,"h":6.25,"n":100},{"c":"COD","m":15.7,"l":12.65,"h":19.4,"n":1200},{"c":"COD","m":29.3,"n":300},
{"c":"CIV","m":18.1,"l":7.2,"h":22.4,"n":1200},{"c":"CIV","m":7.6,"l":7.5,"h":7.7,"n":1200},{"c":"CIV","m":7.95,"l":7.8,"h":8.1,"n":5000},{"c":"CIV","m":9.1,"l":8.9,"h":9.3,"n":1500},{"c":"CIV","m":9.9,"l":9.85,"h":9.95,"n":1500},{"c":"CIV","m":11.0,"l":10.95,"h":11.05,"n":100},{"c":"CIV","m":12.5,"l":12.2,"h":12.7,"n":1200},{"c":"CIV","m":13.05,"l":13.0,"h":13.1,"n":1200},{"c":"CIV","m":14.6,"l":14.55,"h":14.65,"n":100},{"c":"CIV","m":17.1,"l":17.05,"h":17.15,"n":100},
{"c":"CAF","m":0.0,"n":200},{"c":"CAF","m":15.5,"l":3.35,"h":20.5,"n":3000},{"c":"CAF","m":3.95,"l":3.9,"h":4.0,"n":100},{"c":"CAF","m":8.0,"l":7.95,"h":8.05,"n":100},{"c":"CAF","m":9.1,"l":9.05,"h":9.15,"n":100},{"c":"CAF","m":12.55,"l":12.5,"h":12.6,"n":100},{"c":"CAF","m":13.1,"l":13.05,"h":13.15,"n":100},{"c":"CAF","m":14.0,"l":13.95,"h":14.05,"n":1200},{"c":"CAF","m":16.75,"l":16.7,"h":16.8,"n":100},{"c":"CAF","m":18.1,"l":18.0,"h":18.2,"n":100},{"c":"CAF","m":18.6,"l":18.55,"h":18.8,"n":100},{"c":"CAF","m":18.95,"l":18.9,"h":19.0,"n":100},{"c":"CAF","m":25.0,"n":200},
{"c":"BFA","m":1.0,"l":0,"h":24.55,"n":500},{"c":"BFA","m":0.2,"l":0.05,"h":0.3,"n":1200},{"c":"BFA","m":0.5,"l":0.4,"h":0.6,"n":1500},{"c":"BFA","m":0.9,"l":0.8,"h":1.0,"n":1500},{"c":"BFA","m":1.3,"l":1.2,"h":1.4,"n":1500},{"c":"BFA","m":1.6,"l":1.55,"h":1.7,"n":1200},{"c":"BFA","m":2.1,"l":2.05,"h":2.2,"n":100},{"c":"BFA","m":2.5,"l":2.45,"h":2.55,"n":100},{"c":"BFA","m":3.45,"l":3.4,"h":3.5,"n":100},{"c":"BFA","m":4.5,"l":4.4,"h":4.7,"n":2500},{"c":"BFA","m":5.0,"l":4.95,"h":5.05,"n":100},{"c":"BFA","m":6.2,"l":6.15,"h":6.25,"n":100},{"c":"BFA","m":6.9,"l":6.85,"h":6.95,"n":1200},{"c":"BFA","m":7.4,"l":7.35,"h":7.45,"n":100},{"c":"BFA","m":8.5,"l":8.45,"h":8.8,"n":100},{"c":"BFA","m":9.0,"l":8.95,"h":9.05,"n":1200},{"c":"BFA","m":10.1,"l":9.95,"h":10.3,"n":14000},{"c":"BFA","m":11.8,"l":11.2,"h":12.3,"n":36000},{"c":"BFA","m":13.3,"l":12.7,"h":14.8,"n":65000},{"c":"BFA","m":14.35,"l":14.0,"h":14.6,"n":17000},{"c":"BFA","m":15.3,"l":15.25,"h":15.35,"n":100},{"c":"BFA","m":16.0,"l":15.95,"h":16.05,"n":100},{"c":"BFA","m":16.9,"l":16.85,"h":16.95,"n":100},{"c":"BFA","m":18.5,"l":18.45,"h":18.55,"n":100},{"c":"BFA","m":19.1,"l":18.95,"h":19.15,"n":100},{"c":"BFA","m":19.5,"l":19.45,"h":19.8,"n":800},
{"c":"BEN","m":16.0,"l":1.6,"h":22.3,"n":1200},{"c":"BEN","m":6.0,"l":5.95,"h":6.05,"n":100},{"c":"BEN","m":10.85,"l":10.8,"h":11.0,"n":100},{"c":"BEN","m":14.15,"l":14.1,"h":14.2,"n":1200},{"c":"BEN","m":16.4,"l":16.35,"h":16.45,"n":100},{"c":"BEN","m":23.0,"n":200},
{"c":"BDI","m":4.65,"l":1.97,"h":27.5,"n":1200},{"c":"BDI","m":4.75,"l":4.7,"h":4.8,"n":300},{"c":"BDI","m":10.1,"l":10.05,"h":10.15,"n":100},{"c":"BDI","m":12.85,"l":12.8,"h":12.9,"n":100},{"c":"BDI","m":17.55,"l":17.5,"h":17.6,"n":100},
{"c":"AGO","m":21.4,"l":0.1,"h":28.1,"n":1200},{"c":"AGO","m":2.9,"l":2.85,"h":2.95,"n":200},{"c":"AGO","m":6.8,"l":6.75,"h":6.85,"n":100},{"c":"AGO","m":7.6,"l":7.55,"h":7.65,"n":100},{"c":"AGO","m":8.5,"l":8.45,"h":8.55,"n":100},{"c":"AGO","m":9.25,"l":9.2,"h":9.3,"n":1200},{"c":"AGO","m":12.45,"l":12.4,"h":12.5,"n":100},{"c":"AGO","m":13.05,"l":12.95,"h":13.1,"n":3000},{"c":"AGO","m":15.1,"l":15.05,"h":15.15,"n":100},{"c":"AGO","m":15.4,"l":15.35,"h":15.45,"n":100},{"c":"AGO","m":15.7,"l":15.65,"h":15.75,"n":100},{"c":"AGO","m":17.0,"l":16.95,"h":17.05,"n":100}
]},
"layer":[
{"data":{"name":"g"},"mark":{"type":"rule","color":"#FFFFFF","strokeWidth":0.8},
 "encoding":{"x":{"field":"v","type":"quantitative","title":"mean","scale":{"domain":[-1.6,31.6],"nice":false,"zero":false},"axis":{"values":[0,10,20,30],"labelPadding":7,"titlePadding":8}}}},
{"data":{"name":"s"},"mark":{"type":"rule","color":"#FF0000","strokeWidth":2,"opacity":1},
 "encoding":{"x":{"field":"l","type":"quantitative","title":"mean","scale":{"domain":[-1.6,31.6],"nice":false,"zero":false},"axis":{"values":[0,10,20,30],"labelPadding":7,"titlePadding":8}},"x2":{"field":"h"},
 "y":{"field":"c","type":"nominal","title":"ISO","scale":{"type":"point","padding":0.6,"domain":["ZWE","ZMB","ZAF","UGA","TZA","TGO","TCD","SYC","SWZ","STP","SSD","SLE","SEN","SDN","RWA","NGA","NER","NAM","MWI","MUS","MRT","MOZ","MLI","MDG","LSO","LBR","KEN","GNQ","GNB","GMB","GIN","GHA","GAB","ETH","ERI","DZA","CPV","COM","COG","COD","CMR","CIV","CAF","BWA","BFA","BEN","BDI","AGO"]},"axis":{"titlePadding":8}}}},
{"data":{"name":"s"},"mark":{"type":"tick","color":"#FF0000","thickness":2,"size":13,"opacity":1},
 "encoding":{"x":{"field":"l","type":"quantitative","title":"mean","scale":{"domain":[-1.6,31.6],"nice":false,"zero":false}},
 "y":{"field":"c","type":"nominal","title":"ISO","scale":{"type":"point","padding":0.6,"domain":["ZWE","ZMB","ZAF","UGA","TZA","TGO","TCD","SYC","SWZ","STP","SSD","SLE","SEN","SDN","RWA","NGA","NER","NAM","MWI","MUS","MRT","MOZ","MLI","MDG","LSO","LBR","KEN","GNQ","GNB","GMB","GIN","GHA","GAB","ETH","ERI","DZA","CPV","COM","COG","COD","CMR","CIV","CAF","BWA","BFA","BEN","BDI","AGO"]}}}},
{"data":{"name":"s"},"mark":{"type":"tick","color":"#FF0000","thickness":2,"size":13,"opacity":1},
 "encoding":{"x":{"field":"h","type":"quantitative","title":"mean","scale":{"domain":[-1.6,31.6],"nice":false,"zero":false}},
 "y":{"field":"c","type":"nominal","title":"ISO","scale":{"type":"point","padding":0.6,"domain":["ZWE","ZMB","ZAF","UGA","TZA","TGO","TCD","SYC","SWZ","STP","SSD","SLE","SEN","SDN","RWA","NGA","NER","NAM","MWI","MUS","MRT","MOZ","MLI","MDG","LSO","LBR","KEN","GNQ","GNB","GMB","GIN","GHA","GAB","ETH","ERI","DZA","CPV","COM","COG","COD","CMR","CIV","CAF","BWA","BFA","BEN","BDI","AGO"]}}}},
{"data":{"name":"s"},"mark":{"type":"circle","color":"#FF0000","opacity":1},
 "encoding":{"x":{"field":"m","type":"quantitative","title":"mean","scale":{"domain":[-1.6,31.6],"nice":false,"zero":false}},
 "y":{"field":"c","type":"nominal","title":"ISO","scale":{"type":"point","padding":0.6,"domain":["ZWE","ZMB","ZAF","UGA","TZA","TGO","TCD","SYC","SWZ","STP","SSD","SLE","SEN","SDN","RWA","NGA","NER","NAM","MWI","MUS","MRT","MOZ","MLI","MDG","LSO","LBR","KEN","GNQ","GNB","GMB","GIN","GHA","GAB","ETH","ERI","DZA","CPV","COM","COG","COD","CMR","CIV","CAF","BWA","BFA","BEN","BDI","AGO"]}},
 "size":{"field":"n","type":"quantitative","title":"(numb)","scale":{"type":"pow","exponent":0.75,"domain":[0,65000],"range":[16,750]},
  "legend":{"orient":"none","legendX":693,"legendY":330,"values":[10000,20000,30000],"format":"d","titleFontSize":20,"titleFontWeight":"normal","titleColor":"#000000","titleFont":"Liberation Sans","labelFontSize":16,"labelColor":"#000000","labelFont":"Liberation Sans","rowPadding":14,"labelOffset":8,"titlePadding":8,"symbolStrokeWidth":0,"symbolFillColor":"#FF0000","symbolOpacity":1}}}},
{"data":{"name":"b"},"mark":{"type":"rule","color":"#0000FF","strokeWidth":2,"opacity":1},
 "encoding":{"x":{"field":"l","type":"quantitative","title":"mean","scale":{"domain":[-1.6,31.6],"nice":false,"zero":false}},"x2":{"field":"h"},
 "y":{"field":"c","type":"nominal","title":"ISO","scale":{"type":"point","padding":0.6,"domain":["ZWE","ZMB","ZAF","UGA","TZA","TGO","TCD","SYC","SWZ","STP","SSD","SLE","SEN","SDN","RWA","NGA","NER","NAM","MWI","MUS","MRT","MOZ","MLI","MDG","LSO","LBR","KEN","GNQ","GNB","GMB","GIN","GHA","GAB","ETH","ERI","DZA","CPV","COM","COG","COD","CMR","CIV","CAF","BWA","BFA","BEN","BDI","AGO"]}}}},
{"data":{"name":"b"},"mark":{"type":"tick","color":"#0000FF","thickness":2,"size":13,"opacity":1},
 "encoding":{"x":{"field":"l","type":"quantitative","title":"mean","scale":{"domain":[-1.6,31.6],"nice":false,"zero":false}},
 "y":{"field":"c","type":"nominal","title":"ISO","scale":{"type":"point","padding":0.6,"domain":["ZWE","ZMB","ZAF","UGA","TZA","TGO","TCD","SYC","SWZ","STP","SSD","SLE","SEN","SDN","RWA","NGA","NER","NAM","MWI","MUS","MRT","MOZ","MLI","MDG","LSO","LBR","KEN","GNQ","GNB","GMB","GIN","GHA","GAB","ETH","ERI","DZA","CPV","COM","COG","COD","CMR","CIV","CAF","BWA","BFA","BEN","BDI","AGO"]}}}},
{"data":{"name":"b"},"mark":{"type":"tick","color":"#0000FF","thickness":2,"size":13,"opacity":1},
 "encoding":{"x":{"field":"h","type":"quantitative","title":"mean","scale":{"domain":[-1.6,31.6],"nice":false,"zero":false}},
 "y":{"field":"c","type":"nominal","title":"ISO","scale":{"type":"point","padding":0.6,"domain":["ZWE","ZMB","ZAF","UGA","TZA","TGO","TCD","SYC","SWZ","STP","SSD","SLE","SEN","SDN","RWA","NGA","NER","NAM","MWI","MUS","MRT","MOZ","MLI","MDG","LSO","LBR","KEN","GNQ","GNB","GMB","GIN","GHA","GAB","ETH","ERI","DZA","CPV","COM","COG","COD","CMR","CIV","CAF","BWA","BFA","BEN","BDI","AGO"]}}}},
{"data":{"name":"b"},"mark":{"type":"circle","color":"#0000FF","opacity":1,"size":50},
 "encoding":{"x":{"field":"m","type":"quantitative","title":"mean","scale":{"domain":[-1.6,31.6],"nice":false,"zero":false}},
 "y":{"field":"c","type":"nominal","title":"ISO","scale":{"type":"point","padding":0.6,"domain":["ZWE","ZMB","ZAF","UGA","TZA","TGO","TCD","SYC","SWZ","STP","SSD","SLE","SEN","SDN","RWA","NGA","NER","NAM","MWI","MUS","MRT","MOZ","MLI","MDG","LSO","LBR","KEN","GNQ","GNB","GMB","GIN","GHA","GAB","ETH","ERI","DZA","CPV","COM","COG","COD","CMR","CIV","CAF","BWA","BFA","BEN","BDI","AGO"]}}}}
]
}
